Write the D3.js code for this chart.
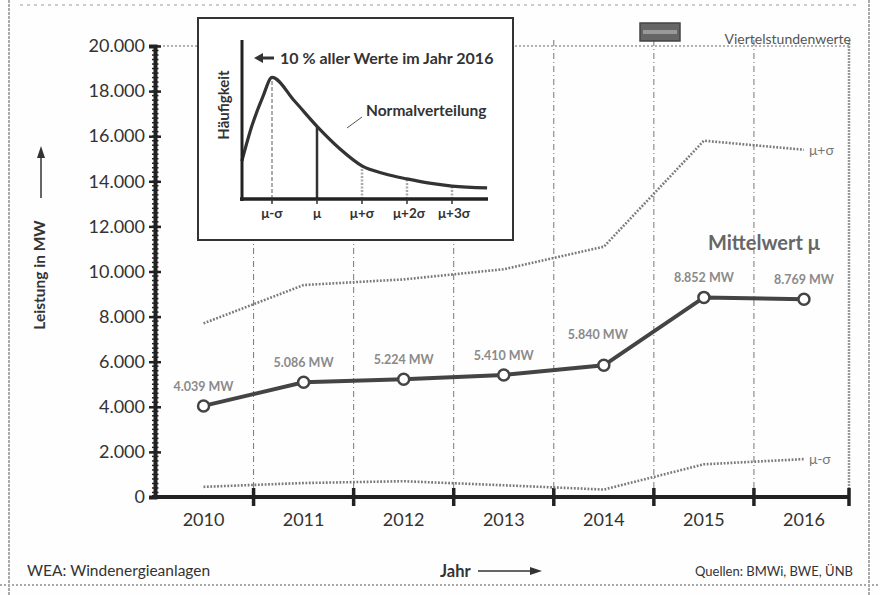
<!DOCTYPE html>
<html><head><meta charset="utf-8">
<script src="https://cdn.jsdelivr.net/npm/d3@7/dist/d3.min.js"></script>
<style>
html,body{margin:0;padding:0;background:#fff;}
text{font-family:Lato,"Open Sans",sans-serif;}
</style></head>
<body><svg id="c" width="880" height="595"></svg>
<script>
// ---- data ----
const years = ["2010","2011","2012","2013","2014","2015","2016"];
const meanValues = [4039, 5086, 5224, 5410, 5840, 8852, 8769];
const plusSigma = [7700, 9400, 9650, 10100, 11100, 15800, 15400];
const minusSigma = [450, 620, 700, 520, 330, 1450, 1680];
const yTicks = [0,2000,4000,6000,8000,10000,12000,14000,16000,18000,20000];
// inset (schematic distribution)
const insetX = [-1.67, -1.45, -1.2, -1, -0.5, 0, 0.5, 1, 1.5, 2, 2.5, 3, 3.78];
const insetY = [0.24, 0.46, 0.65, 0.77, 0.62, 0.46, 0.32, 0.21, 0.16, 0.127, 0.10, 0.082, 0.07];
const insetMarks = [-1, 0, 1, 2, 3];
const insetLabels = ["μ-σ", "μ", "μ+σ", "μ+2σ", "μ+3σ"];

const svg = d3.select("#c");
const de = d3.formatLocale({decimal:",", thousands:".", grouping:[3], currency:["","€"]});
const fmt = de.format(",");

// background & page frame
svg.append("rect").attr("width",880).attr("height",595).attr("fill","#fefefe");
svg.append("line").attr("x1",9).attr("x2",9).attr("y1",0).attr("y2",595).attr("stroke","#aaa").attr("stroke-width",2).attr("stroke-dasharray","3,1");
svg.append("line").attr("x1",869).attr("x2",869).attr("y1",0).attr("y2",595).attr("stroke","#aaa").attr("stroke-width",2).attr("stroke-dasharray","3,1");
svg.append("line").attr("x1",0).attr("x2",880).attr("y1",585).attr("y2",585).attr("stroke","#aaa").attr("stroke-width",2).attr("stroke-dasharray","2,2");
svg.append("line").attr("x1",20).attr("x2",860).attr("y1",5).attr("y2",5).attr("stroke","#bbb").attr("stroke-width",1.5).attr("stroke-dasharray","3,4");

// scales
const x = d3.scaleBand().domain(years).range([153.5, 854]).padding(0);
const y = d3.scaleLinear().domain([0,20000]).range([497,46]);
const cx = d => x(d) + x.bandwidth()/2;

// grid: vertical separators
svg.append("g").selectAll("line").data(years.slice(1)).join("line")
  .attr("x1", d=>x(d)).attr("x2", d=>x(d)).attr("y1", 40).attr("y2", y(0))
  .attr("stroke","#777").attr("stroke-width",1).attr("stroke-dasharray","6,3,1,3");
// right border
svg.append("line").attr("x1",849).attr("x2",849).attr("y1",40).attr("y2",y(0))
  .attr("stroke","#999").attr("stroke-width",2.5).attr("stroke-dasharray","2,1");
// top dotted line
svg.append("line").attr("x1",155).attr("x2",849).attr("y1",y(20000)).attr("y2",y(20000))
  .attr("stroke","#999").attr("stroke-width",1.5).attr("stroke-dasharray","2,2");

// Y axis
const yAxis = d3.axisLeft(y).tickValues(yTicks).tickFormat(fmt).tickSize(6).tickPadding(4);
const gy = svg.append("g").attr("transform","translate(155,0)").call(yAxis);
gy.select(".domain").attr("stroke","#222").attr("stroke-width",4);
gy.selectAll(".tick line").attr("stroke","#222").attr("stroke-width",2.5).attr("x1",6);
gy.selectAll(".tick text").attr("font-size",18).attr("fill","#333").attr("font-family","Lato, sans-serif");
// minor ticks
const minor = d3.range(0,20001,200);
svg.append("g").selectAll("line").data(minor).join("line")
  .attr("x1",152).attr("x2",158.5).attr("y1",d=>y(d)).attr("y2",d=>y(d))
  .attr("stroke","#222").attr("stroke-width",1.5);

// X axis
const xAxis = d3.axisBottom(x).tickSize(0).tickPadding(16);
const gx = svg.append("g").attr("transform",`translate(0,${y(0)})`).call(xAxis);
gx.select(".domain").attr("stroke","#222").attr("stroke-width",4).attr("d","M152,0H849");
gx.selectAll(".tick text").attr("font-size",18).attr("fill","#333").attr("font-family","Lato, sans-serif");
svg.append("g").selectAll("line").data(years.slice(1).map(d=>x(d)).concat([849])).join("line")
  .attr("x1",d=>d).attr("x2",d=>d).attr("y1",y(0)-9).attr("y2",y(0)+9)
  .attr("stroke","#222").attr("stroke-width",3.5);

// sigma lines
const line = d3.line().x((d,i)=>cx(years[i])).y(d=>y(d));
[plusSigma, minusSigma].forEach(arr=>{
  svg.append("path").attr("d", line(arr)).attr("fill","none")
    .attr("stroke","#7a7a7a").attr("stroke-width",2.6).attr("stroke-dasharray","1.8,1.6");
});
svg.append("text").attr("x",cx("2016")+5).attr("y",y(plusSigma[6])+5).text("μ+σ")
  .attr("font-size",14).attr("fill","#777");
svg.append("text").attr("x",cx("2016")+5).attr("y",y(minusSigma[6])+5).text("μ-σ")
  .attr("font-size",14).attr("fill","#777");

// mean line
svg.append("path").attr("d", line(meanValues)).attr("fill","none")
  .attr("stroke","#444").attr("stroke-width",4);
svg.append("g").selectAll("circle").data(meanValues).join("circle")
  .attr("cx",(d,i)=>cx(years[i])).attr("cy",d=>y(d)).attr("r",5.5)
  .attr("fill","#fff").attr("stroke","#444").attr("stroke-width",2.5);
svg.append("g").selectAll("text").data(meanValues).join("text")
  .attr("x",(d,i)=>cx(years[i])-((i<meanValues.length-1 && meanValues[i+1]-d>1500)?6:0))
  .attr("y",(d,i)=>y(d)-((i<meanValues.length-1 && meanValues[i+1]-d>1500)?26:15))
  .attr("text-anchor","middle").attr("font-size",12.5).attr("font-weight","bold")
  .attr("fill","#8a8a8a").text(d=>fmt(d)+" MW");
svg.append("text").attr("x",708).attr("y",250).text("Mittelwert μ")
  .attr("font-size",20).attr("font-weight","bold").attr("fill","#666");

// legend
svg.append("rect").attr("x",640).attr("y",23).attr("width",40).attr("height",18)
  .attr("fill","#666").attr("stroke","#444").attr("stroke-width",1.5);
svg.append("rect").attr("x",643).attr("y",30).attr("width",34).attr("height",4).attr("fill","#999");
svg.append("text").attr("x",851).attr("y",44).attr("text-anchor","end")
  .attr("font-size",14).attr("fill","#555").text("Viertelstundenwerte");

// axis titles
const ty = svg.append("g").attr("transform","translate(45,275) rotate(-90)");
ty.append("text").attr("text-anchor","middle").attr("font-size",15.5).attr("font-weight","bold")
  .attr("fill","#333").text("Leistung in MW");
svg.append("line").attr("x1",41).attr("x2",41).attr("y1",198).attr("y2",156).attr("stroke","#333").attr("stroke-width",1.5);
svg.append("path").attr("d","M41,146 L37,158 L45,158 Z").attr("fill","#333");

svg.append("text").attr("x",440).attr("y",577).attr("font-size",16.5).attr("font-weight","bold")
  .attr("fill","#333").text("Jahr");
svg.append("line").attr("x1",478).attr("x2",532).attr("y1",571).attr("y2",571).attr("stroke","#333").attr("stroke-width",1.5);
svg.append("path").attr("d","M542,571 L530,567 L530,575 Z").attr("fill","#333");
svg.append("text").attr("x",27).attr("y",576).attr("font-size",15.5).attr("fill","#333").text("WEA: Windenergieanlagen");
svg.append("text").attr("x",853).attr("y",576).attr("text-anchor","end").attr("font-size",13).attr("fill","#333").text("Quellen: BMWi, BWE, ÜNB");

// ---- inset ----
const ins = svg.append("g");
ins.append("rect").attr("x",198).attr("y",18).attr("width",315).attr("height",222)
  .attr("fill","#fff").attr("stroke","#333").attr("stroke-width",2);
const ix = d3.scaleLinear().domain([-1,3]).range([272,452]);
const iy = d3.scaleLinear().domain([0,1]).range([199,41]);
const curve = d3.line().x((d,i)=>ix(insetX[i])).y(d=>iy(d)).curve(d3.curveMonotoneX);
const curveY = v => { const i = insetX.indexOf(v); return iy(insetY[i]); };
// vertical marker lines
ins.selectAll("line.m").data(insetMarks).join("line")
  .attr("x1",d=>ix(d)).attr("x2",d=>ix(d)).attr("y1",iy(0)).attr("y2",d=>curveY(d))
  .attr("stroke",(d,i)=>i===1?"#333":(i===0?"#777":"#aaa"))
  .attr("stroke-width",(d,i)=>i===1?2.5:(i===0?1.2:2.5))
  .attr("stroke-dasharray",(d,i)=>i===1?null:(i===0?"4,2":"2,1.5"));
ins.append("path").attr("d",curve(insetY)).attr("fill","none").attr("stroke","#333").attr("stroke-width",3.2);
// inset axes
ins.append("line").attr("x1",242).attr("x2",242).attr("y1",40).attr("y2",iy(0)+2).attr("stroke","#222").attr("stroke-width",3);
ins.append("line").attr("x1",240).attr("x2",488).attr("y1",iy(0)).attr("y2",iy(0)).attr("stroke","#222").attr("stroke-width",3.5);
ins.selectAll("line.t").data(insetMarks).join("line")
  .attr("x1",d=>ix(d)).attr("x2",d=>ix(d)).attr("y1",iy(0)).attr("y2",iy(0)+5)
  .attr("stroke","#333").attr("stroke-width",1.5);
ins.selectAll("text.l").data(insetLabels).join("text")
  .attr("x",(d,i)=>ix(insetMarks[i])+(i>=3?2:0)).attr("y",218).attr("text-anchor","middle")
  .attr("font-size",13.5).attr("font-weight","bold").attr("fill","#333").text(d=>d);
ins.append("text").attr("transform","translate(229,105) rotate(-90)").attr("text-anchor","middle")
  .attr("font-size",15).attr("font-weight","bold").attr("fill","#333").text("Häufigkeit");
ins.append("text").attr("x",280).attr("y",64).attr("font-size",16).attr("font-weight","bold")
  .attr("fill","#333").text("10 % aller Werte im Jahr 2016");
ins.append("line").attr("x1",274).attr("x2",262).attr("y1",58).attr("y2",58).attr("stroke","#333").attr("stroke-width",3);
ins.append("path").attr("d","M254,58 L263,53 L263,63 Z").attr("fill","#333");
ins.append("text").attr("x",366).attr("y",116).attr("font-size",15.5).attr("font-weight","bold")
  .attr("fill","#333").text("Normalverteilung");
ins.append("line").attr("x1",347).attr("x2",362).attr("y1",128).attr("y2",117).attr("stroke","#555").attr("stroke-width",1);
</script></body></html>
